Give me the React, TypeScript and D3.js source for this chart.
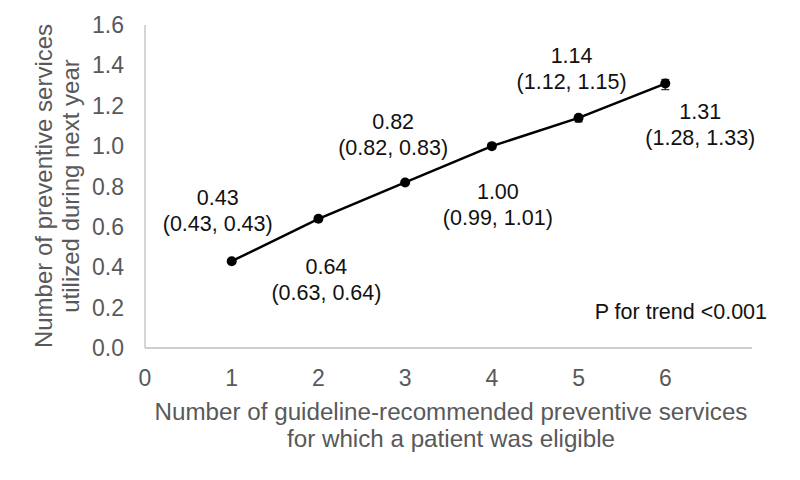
import React from "react";
import * as d3 from "d3";

const xValues = [1, 2, 3, 4, 5, 6];
const means = [0.43, 0.64, 0.82, 1.0, 1.14, 1.31];
const lower = [0.43, 0.63, 0.82, 0.99, 1.12, 1.28];
const upper = [0.43, 0.64, 0.83, 1.01, 1.15, 1.33];
const xTicks = [0, 1, 2, 3, 4, 5, 6];
const yTicks = [0, 0.2, 0.4, 0.6, 0.8, 1.0, 1.2, 1.4, 1.6];

// label offsets (layout): [dx, dy of first line]
const labelOffsets: [number, number][] = [
  [-14, -64],
  [8, 48],
  [-12, -61],
  [6, 45],
  [-7, -62],
  [35, 28],
];

export default function App() {
  const W = 800, H = 480;
  const x = d3.scaleLinear().domain([0, 7]).range([145, 752]);
  const y = d3.scaleLinear().domain([0, 1.6]).range([348, 25]);
  const line = d3.line<number>().x((_, i) => x(xValues[i])).y((d) => y(d));
  const gray = "#595959";
  const axisColor = "#bfbfbf";
  const font = "'Liberation Sans', Arial, sans-serif";
  const fmt = d3.format(".2f");

  return (
    <svg width={W} height={H} style={{ position: "absolute", left: 0, top: 0, background: "#fff" }} fontFamily={font}>
      <rect width={W} height={H} fill="#fff" />
      <line x1={x(0)} x2={x(0)} y1={y(1.6)} y2={y(0)} stroke={axisColor} strokeWidth={1.3} />
      <line x1={x(0)} x2={x(7)} y1={y(0)} y2={y(0)} stroke={axisColor} strokeWidth={1.3} />
      {yTicks.map((t) => (
        <text key={t} x={x(0) - 21} y={y(t)} dy="0.35em" textAnchor="end" fontSize={23} fill={gray}>
          {t.toFixed(1)}
        </text>
      ))}
      {xTicks.map((t) => (
        <text key={t} x={x(t)} y={y(0) + 30} dy="0.35em" textAnchor="middle" fontSize={23} fill={gray}>
          {t}
        </text>
      ))}
      <text transform={`translate(52,186) rotate(-90)`} textAnchor="middle" fontSize={24} fill={gray}>
        Number of preventive services
      </text>
      <text transform={`translate(79,186) rotate(-90)`} textAnchor="middle" fontSize={24} fill={gray}>
        utilized during next year
      </text>
      <text x={451} y={420} textAnchor="middle" fontSize={24.2} fill={gray}>
        Number of guideline-recommended preventive services
      </text>
      <text x={451} y={447} textAnchor="middle" fontSize={24.2} fill={gray}>
        for which a patient was eligible
      </text>
      <path d={line(means) || ""} fill="none" stroke="#000" strokeWidth={2.5} />
      {xValues.map((xv, i) => (
        <g key={"e" + i}>
          {upper[i] - lower[i] > 0.02 && (
            <g stroke="#333" strokeWidth={1.3}>
              <line x1={x(xv)} x2={x(xv)} y1={y(lower[i])} y2={y(upper[i])} />
              <line x1={x(xv) - 4} x2={x(xv) + 4} y1={y(lower[i])} y2={y(lower[i])} />
              <line x1={x(xv) - 4} x2={x(xv) + 4} y1={y(upper[i])} y2={y(upper[i])} />
            </g>
          )}
          <circle cx={x(xv)} cy={y(means[i])} r={5} fill="#000" />
        </g>
      ))}
      {xValues.map((xv, i) => {
        const [dx, dy] = labelOffsets[i];
        const cx = x(xv) + dx;
        const cy = y(means[i]) + dy;
        return (
          <g key={"l" + i} fontSize={21.5} fill="#111" textAnchor="middle">
            <text x={cx} y={cy} dy="0.35em">{fmt(means[i])}</text>
            <text x={cx} y={cy + 26} dy="0.35em">{`(${fmt(lower[i])}, ${fmt(upper[i])})`}</text>
          </g>
        );
      })}
      <text x={767} y={311} dy="0.35em" textAnchor="end" fontSize={21.5} fill="#111">
        P for trend &lt;0.001
      </text>
    </svg>
  );
}
